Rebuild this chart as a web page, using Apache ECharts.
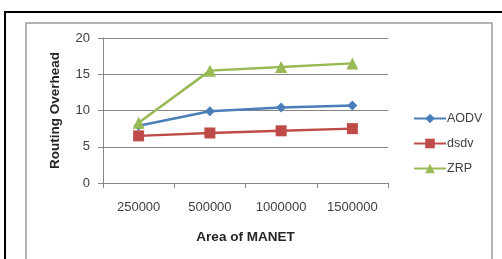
<!DOCTYPE html>
<html>
<head>
<meta charset="utf-8">
<script src="https://cdn.jsdelivr.net/npm/echarts@6/dist/echarts.min.js"></script>
<style>
  html, body { margin: 0; padding: 0; background: #fff; }
  #chart { width: 502px; height: 259px; }
</style>
</head>
<body>
<div id="chart"></div>
<script>
// data
var categories = ['250000', '500000', '1000000', '1500000'];
var aodv = [7.9, 9.9, 10.4, 10.7];
var dsdv = [6.5, 6.9, 7.2, 7.5];
var zrp = [8.3, 15.5, 16.0, 16.5];
var yTicks = { min: 0, max: 20, interval: 5 };

var font = 'Liberation Sans';
var gridGray = '#868686';

function lineSeries(name, data, color, symbol, size) {
  return {
    name: name,
    type: 'line',
    data: data,
    symbol: symbol,
    symbolSize: size,
    lineStyle: { color: color, width: 2.5 },
    itemStyle: { color: color },
    emphasis: { disabled: true }
  };
}

var option = {
  animation: false,
  backgroundColor: '#ffffff',
  textStyle: { fontFamily: font },
  graphic: [
    { type: 'rect', shape: { x: 5, y: 12, width: 600, height: 400 },
      style: { fill: 'none', stroke: '#000', lineWidth: 2 }, silent: true },
    { type: 'rect', shape: { x: 26, y: 23, width: 466, height: 400 },
      style: { fill: 'none', stroke: '#9a9a9a', lineWidth: 1.5 }, silent: true }
  ],
  grid: { left: 103, right: 114, top: 38, bottom: 76, containLabel: false },
  legend: {
    orient: 'vertical',
    left: 408,
    top: 107,
    itemWidth: 32,
    itemHeight: 12,
    itemGap: 12,
    selectedMode: false,
    textStyle: { fontSize: 12.5, color: '#404040', padding: [0, 0, 0, -4] },
    data: ['AODV', 'dsdv', 'ZRP']
  },
  xAxis: {
    type: 'category',
    data: categories,
    boundaryGap: true,
    name: 'Area of MANET',
    nameLocation: 'middle',
    nameGap: 47,
    nameTextStyle: { fontSize: 13.5, fontWeight: 'bold', color: '#262626' },
    axisLine: { lineStyle: { color: gridGray, width: 1 } },
    axisTick: { show: true, length: 5, lineStyle: { color: gridGray } },
    axisLabel: { fontSize: 13, color: '#404040', margin: 18 },
    splitLine: { show: false }
  },
  yAxis: {
    type: 'value',
    min: yTicks.min,
    max: yTicks.max,
    interval: yTicks.interval,
    name: 'Routing Overhead',
    nameLocation: 'middle',
    nameRotate: 90,
    nameGap: 41,
    nameTextStyle: { fontSize: 13.5, fontWeight: 'bold', color: '#262626' },
    axisLine: { show: true, lineStyle: { color: gridGray, width: 1 } },
    axisTick: { show: true, length: 5, lineStyle: { color: gridGray } },
    axisLabel: { fontSize: 13, color: '#404040', margin: 13 },
    splitLine: { show: true, lineStyle: { color: gridGray, width: 1 } }
  },
  series: [
    lineSeries('AODV', aodv, '#4A7EBB', 'diamond', 10),
    lineSeries('dsdv', dsdv, '#BE4B48', 'rect', 11),
    lineSeries('ZRP', zrp, '#98B954', 'triangle', 12)
  ]
};

var chart = echarts.init(document.getElementById('chart'), null, { renderer: 'canvas' });
chart.setOption(option);
</script>
</body>
</html>
